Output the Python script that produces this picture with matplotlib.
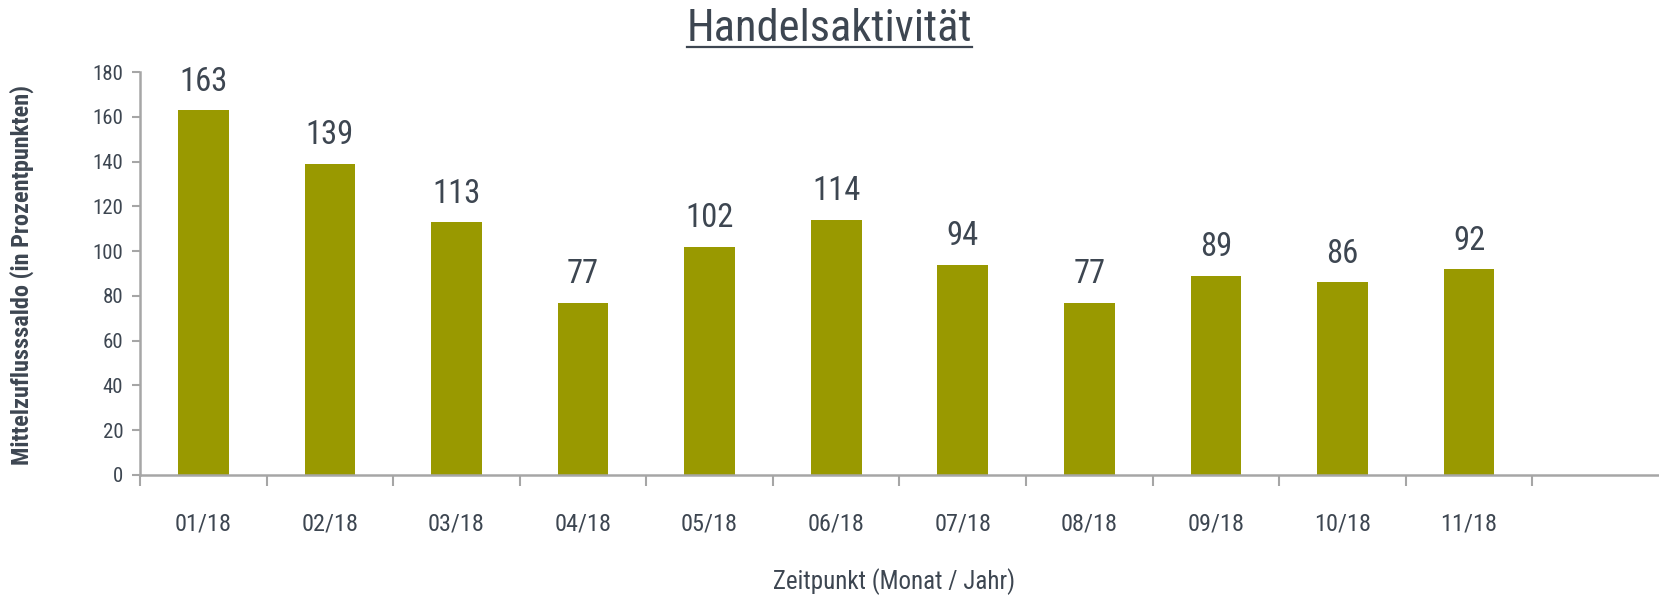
import numpy as np
import matplotlib
matplotlib.use("Agg")
import matplotlib.pyplot as plt
from matplotlib.lines import Line2D

# -------------------------
# Data
# -------------------------
months = ["01/18", "02/18", "03/18", "04/18", "05/18", "06/18",
          "07/18", "08/18", "09/18", "10/18", "11/18"]
values = [163, 139, 113, 77, 102, 114, 94, 77, 89, 86, 92]
n_slots = 12  # axis has room for one more month

title = "Handelsaktivität"
xlabel = "Zeitpunkt (Monat / Jahr)"
ylabel = "Mittelzuflusssaldo (in Prozentpunkten)"

# -------------------------
# Style
# -------------------------
plt.rcParams['font.family'] = ['Roboto Condensed', 'DejaVu Sans']
text_col = "#3d4651"
bar_col = "#999900"
axis_col = "#a6a6a6"

fig = plt.figure(figsize=(16.59, 6.0), dpi=100)
ax = fig.add_axes([140 / 1659, 1 - 475 / 600, 1 - 140 / 1659, 403 / 600])

x = np.arange(len(months))
ax.bar(x, values, width=0.4, color=bar_col)

for xi, v in zip(x, values):
    ax.annotate(str(v), (xi, v), xytext=(0, 9), textcoords="offset points",
                ha="center", va="bottom", fontsize=23.5, color=text_col)

ax.set_xlim(-0.5, n_slots - 0.5)
ax.set_ylim(0, 180)
ax.set_yticks(np.arange(0, 181, 20))

# category boundaries as major ticks, labels at centers
ax.set_xticks(np.arange(-0.5, len(months), 1.0))
ax.set_xticklabels([])
ax.set_xticks(x, minor=True)
ax.set_xticklabels(months, minor=True)
ax.tick_params(axis="x", which="major", length=8, width=1.5, color=axis_col)
ax.tick_params(axis="x", which="minor", length=0, pad=27, labelsize=17.5,
               labelcolor=text_col)
ax.tick_params(axis="y", length=6, width=1.5, color=axis_col, labelsize=15,
               labelcolor=text_col, pad=6)

for side in ["top", "right"]:
    ax.spines[side].set_visible(False)
for side in ["left", "bottom"]:
    ax.spines[side].set_color(axis_col)
    ax.spines[side].set_linewidth(1.8)

fig.text(22 / 1659, 1 - 275 / 600, ylabel, rotation=90, ha="center", va="center",
         fontsize=17.5, fontweight="bold", color=text_col)
fig.text(894 / 1659, 1 - 582 / 600, xlabel, ha="center", va="center",
         fontsize=18, color=text_col)

# underlined title
t = fig.text(0.5, 1 - 29 / 600, title, ha="center", va="center",
             fontsize=32, color=text_col)
fig.canvas.draw()
bb = t.get_window_extent().transformed(fig.transFigure.inverted())
yl = 1 - 47 / 600
fig.add_artist(Line2D([bb.x0, bb.x1], [yl, yl], transform=fig.transFigure,
                      color=text_col, lw=1.6))

fig.savefig("out.png", dpi=100)
